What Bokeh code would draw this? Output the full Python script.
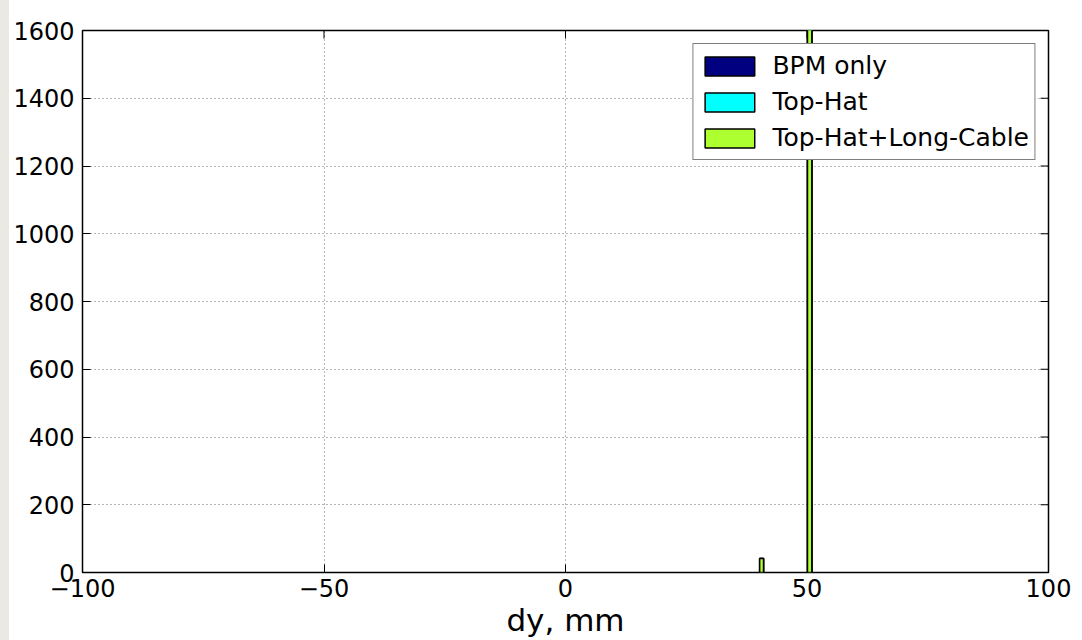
from bokeh.plotting import figure
from bokeh.models import Legend, LegendItem, Range1d, Div, FixedTicker
from bokeh.layouts import row
from bokeh.embed import file_html
from bokeh.resources import INLINE

# Histogram of vertical offset dy (mm)
bin_left = [40.2, 50.1]
bin_right = [41.0, 51.0]
bpm_only = [41, 1750]
top_hat = [41, 1750]
top_hat_long_cable = [41, 1750]

series_names = ["BPM only", "Top-Hat", "Top-Hat+Long-Cable"]
series_colors = ["#000080", "#00ffff", "#adff2f"]
series_counts = [bpm_only, top_hat, top_hat_long_cable]

x_ticks = [-100, -50, 0, 50, 100]
y_ticks = [0, 200, 400, 600, 800, 1000, 1200, 1400, 1600]
x_min, x_max = -100, 100
y_min, y_max = 0, 1600
x_title = "dy, mm"

FONT = "DejaVu Sans"

p = figure(width=1073, height=640, output_backend="svg", toolbar_location=None,
           x_range=Range1d(x_min, x_max), y_range=Range1d(y_min, y_max),
           min_border_left=73, min_border_right=34, min_border_top=30,
           min_border_bottom=68)
p.outline_line_color = "black"
p.outline_line_width = 1.5
p.background_fill_color = "white"
p.border_fill_color = "white"

renderers = []
for name, color, counts in zip(series_names, series_colors, series_counts):
    r = p.quad(left=bin_left, right=bin_right, bottom=0, top=counts,
               fill_color=color, line_color="black", line_width=1.5)
    renderers.append((name, r))

legend = Legend(items=[LegendItem(label=n, renderers=[r]) for n, r in renderers],
                location="top_right", margin=13, padding=5, spacing=3,
                glyph_width=62, glyph_height=24, label_text_font=FONT,
                label_text_font_size="25px", label_text_color="black",
                label_standoff=12, label_height=33,
                border_line_color="black", border_line_width=1.5,
                background_fill_alpha=1.0)
p.add_layout(legend, "center")

for ax in (p.xaxis[0], p.yaxis[0]):
    ax.major_tick_in = 8
    ax.major_tick_out = 0
    ax.minor_tick_in = 0
    ax.minor_tick_out = 0
    ax.axis_line_color = None
    ax.major_tick_line_color = "black"
    ax.major_label_text_font = FONT
    ax.major_label_text_font_size = "24px"
    ax.major_label_text_color = "black"

p.xaxis[0].ticker = FixedTicker(ticks=x_ticks)
p.yaxis[0].ticker = FixedTicker(ticks=y_ticks)
p.xaxis[0].major_label_overrides = {t: str(t).replace("-", "\u2212") for t in x_ticks}
p.xaxis[0].major_label_standoff = 6
p.yaxis[0].major_label_standoff = 8
p.xaxis[0].axis_label = x_title
p.xaxis[0].axis_label_text_font = FONT
p.xaxis[0].axis_label_text_font_size = "31px"
p.xaxis[0].axis_label_text_font_style = "normal"
p.xaxis[0].axis_label_text_color = "black"
p.xaxis[0].axis_label_standoff = 2

# inward tick marks along the top and right edges of the frame
p.scatter(x=x_ticks, y=[y_max] * len(x_ticks), marker="dash", angle=1.5708,
          size=16, line_color="black", line_width=1)
p.scatter(x=[x_max] * len(y_ticks), y=y_ticks, marker="dash",
          size=16, line_color="black", line_width=1)

for g in (p.xgrid[0], p.ygrid[0]):
    g.grid_line_color = "black"
    g.grid_line_alpha = 0.6
    g.grid_line_dash = "1 3"
    g.grid_line_width = 1
p.xgrid[0].ticker = FixedTicker(ticks=x_ticks)
p.ygrid[0].ticker = FixedTicker(ticks=y_ticks)

strip = Div(width=9, height=640, styles={"background-color": "#ebe9e4", "margin": "0"})
layout = row(strip, p, spacing=0)

open("out.html", "w").write(file_html(layout, INLINE))
